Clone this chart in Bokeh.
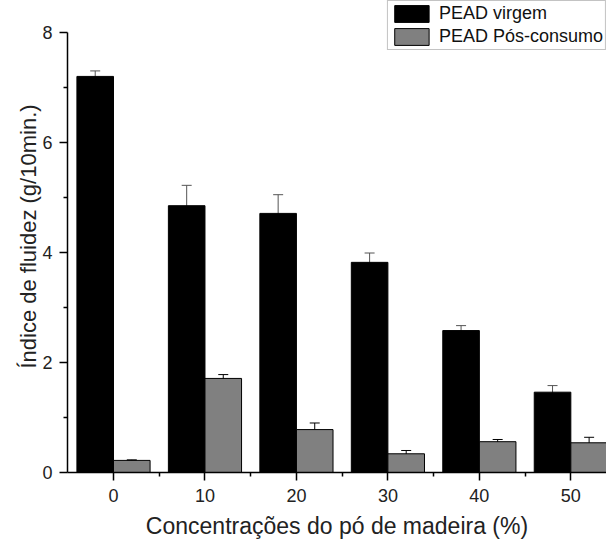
from bokeh.plotting import figure
from bokeh.models import ColumnDataSource, Whisker, FixedTicker, Range1d, Legend, LegendItem, TeeHead
from bokeh.embed import file_html
from bokeh.resources import INLINE

concentracoes = [0, 10, 20, 30, 40, 50]
virgem = [7.20, 4.85, 4.71, 3.82, 2.58, 1.46]
virgem_err = [0.10, 0.37, 0.34, 0.17, 0.09, 0.12]
pos_consumo = [0.22, 1.71, 0.78, 0.34, 0.56, 0.54]
pos_consumo_err = [0.01, 0.07, 0.12, 0.06, 0.04, 0.10]
series_names = ["PEAD virgem", "PEAD Pós-consumo"]
y_ticks = [0, 2, 4, 6, 8]
y_minor = [1, 3, 5, 7]
x_minor = [5, 15, 25, 35, 45]

bar_w = 4.0
FONT = "Liberation Sans"

src_v = ColumnDataSource(dict(
    x=[c - bar_w / 2 for c in concentracoes], top=virgem,
    upper=[v + e for v, e in zip(virgem, virgem_err)],
    lower=[v - e for v, e in zip(virgem, virgem_err)]))
src_p = ColumnDataSource(dict(
    x=[c + bar_w / 2 for c in concentracoes], top=pos_consumo,
    upper=[v + e for v, e in zip(pos_consumo, pos_consumo_err)],
    lower=[v - e for v, e in zip(pos_consumo, pos_consumo_err)]))

p = figure(width=606, height=543, output_backend="svg", toolbar_location=None,
           x_range=Range1d(-5.03, 53.9), y_range=Range1d(0, 8.58),
           min_border_left=67, min_border_right=0, min_border_top=0, min_border_bottom=71)
p.outline_line_color = None
p.grid.visible = False
p.background_fill_color = "white"
p.border_fill_color = "white"

r1 = p.vbar(x="x", top="top", width=bar_w, bottom=0, source=src_v,
            fill_color="black", line_color="black", line_width=1)
r2 = p.vbar(x="x", top="top", width=bar_w, bottom=0, source=src_p,
            fill_color="#808080", line_color="black", line_width=1)

for src, col in ((src_v, "#555555"), (src_p, "black")):
    w = Whisker(source=src, base="x", upper="upper", lower="lower",
                line_color=col, line_width=1,
                upper_head=TeeHead(size=10, line_color=col, line_width=1),
                lower_head=TeeHead(size=10, line_color=col, line_width=1))
    p.add_layout(w)

# axes
p.xaxis.ticker = FixedTicker(ticks=concentracoes, minor_ticks=x_minor)
p.yaxis.ticker = FixedTicker(ticks=y_ticks, minor_ticks=y_minor)
p.yaxis.bounds = (0, 8)
for ax in (p.xaxis[0], p.yaxis[0]):
    ax.axis_line_width = 1.5
    ax.axis_line_color = "black"
    ax.major_tick_line_color = "black"
    ax.minor_tick_line_color = "black"
    ax.major_tick_line_width = 1.5
    ax.minor_tick_line_width = 1.5
    ax.major_tick_in = 0
    ax.major_tick_out = 8
    ax.minor_tick_in = 0
    ax.minor_tick_out = 4
    ax.major_label_text_font = FONT
    ax.major_label_text_font_size = "18px"
    ax.major_label_text_color = "#222222"
    ax.axis_label_text_font = FONT
    ax.axis_label_text_font_style = "normal"
    ax.axis_label_text_color = "#222222"

p.xaxis.axis_label = "Concentrações do pó de madeira (%)"
p.yaxis.axis_label = "Índice de fluidez (g/10min.)"
p.xaxis.axis_label_text_font_size = "23px"
p.yaxis.axis_label_text_font_size = "22px"
p.xaxis.major_label_standoff = 8
p.yaxis.major_label_standoff = 7
p.xaxis.axis_label_standoff = 8
p.yaxis.axis_label_standoff = -2

legend = Legend(items=[LegendItem(label=series_names[0], renderers=[r1]),
                       LegendItem(label=series_names[1], renderers=[r2])],
                location="top_right", margin=0, padding=2, spacing=2,
                glyph_width=43, glyph_height=21, label_standoff=6,
                label_text_font=FONT, label_text_font_size="18px",
                label_text_color="#111111",
                border_line_color="#888888", border_line_width=1,
                background_fill_color="white", background_fill_alpha=1)
p.add_layout(legend)

open("out.html", "w").write(file_html(p, INLINE))
